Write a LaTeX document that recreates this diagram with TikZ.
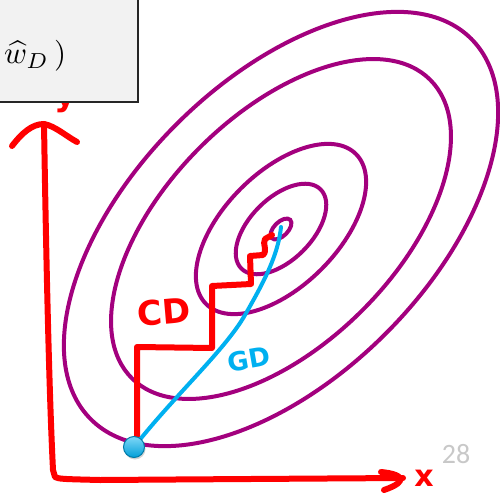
\documentclass[tikz,border=0pt]{standalone}
\usepackage{graphicx}
\usepackage{fontspec}
\newfontfamily\handfont{DejaVu Sans}
\newfontfamily\slidefont{Carlito}
\usetikzlibrary{shadows}
\definecolor{contour}{RGB}{163,0,126}
\definecolor{pen}{RGB}{255,0,0}
\definecolor{gdblue}{RGB}{0,176,240}
\definecolor{pagegray}{RGB}{200,200,200}
\definecolor{boxfill}{RGB}{242,242,242}
\tikzset{
  contourline/.style={draw=contour, line width=4pt},
  penline/.style={draw=pen, line width=6pt, line cap=round, line join=round},
  gdline/.style={draw=gdblue, line width=4pt, line cap=round, line join=round},
  handlabel/.style={font=\handfont\bfseries\fontsize{34}{34}\selectfont, inner sep=0pt},
}
\begin{document}
\begin{tikzpicture}[x=1pt, y=-1pt]
\useasboundingbox (0,0) rectangle (500,497);
\coordinate (cen) at (281,229);
\coordinate (dot) at (134,447);
% contour ellipses
\foreach \a/\b in {269/148, 211/115, 106/57, 56/31, 13/7}{
  \draw[contourline, rotate around={45:(cen)}] (cen) ellipse [x radius=\a pt, y radius=\b pt];
}
% axes
\coordinate (ytip) at (44,124);
\coordinate (corner) at (55,477);
\coordinate (xtip) at (403,478);
\draw[penline] (ytip) .. controls (46,250) and (49,390) .. (53,470) -- (corner)
  .. controls (60,479) .. (100,480) .. controls (250,479) .. (xtip);
\draw[penline] (12,146) .. controls (22,133) and (32,124) .. (ytip) .. controls (55,126) and (66,136) .. (77,142);
\draw[penline] (381,472) .. controls (402,474) and (410,481) .. (384,490);
% coordinate descent staircase
\draw[penline] (dot) -- (137,440) -- (137,347) -- (212,348) -- (212,286) -- (251,284)
  -- (250,256) -- (263,255) .. controls (268,250) and (262,244) .. (265,239) -- (272,235);
% gradient descent
\draw[gdline] (dot) .. controls (175,395) and (225,350) .. (245,315)
  .. controls (265,280) and (278,255) .. (281,227);
\shade[drop shadow={shadow xshift=1pt, shadow yshift=-2pt, opacity=0.35}, top color=gdblue!50, bottom color=gdblue!90!black, draw=gdblue!70!black, line width=1pt] (dot) circle (10.5pt);
% labels
\node[handlabel, text=pen, rotate=5] (cd) at (164,312) {CD};
\node[handlabel, text=gdblue, rotate=10, font=\handfont\bfseries\fontsize{26}{26}\selectfont] (gd) at (249,359) {GD};
\node[handlabel, text=pen, font=\handfont\bfseries\fontsize{30}{30}\selectfont] (xl) at (424,478) {x};
\node[handlabel, text=pen, font=\handfont\bfseries\fontsize{34}{34}\selectfont] (yl) at (66,100) {y};
\node[font=\slidefont\fontsize{28}{28}\selectfont, text=pagegray, inner sep=0pt] (page) at (456,454) {28};
% formula box
\draw[fill=boxfill, draw=black!85, line width=2pt] (-5,-5) rectangle (138,102);
\node[anchor=base west, inner sep=0pt] (formula) at (4,64) {\scalebox{3.1}{$\widehat{w}_{D}\,)$}};
\end{tikzpicture}
\end{document}
